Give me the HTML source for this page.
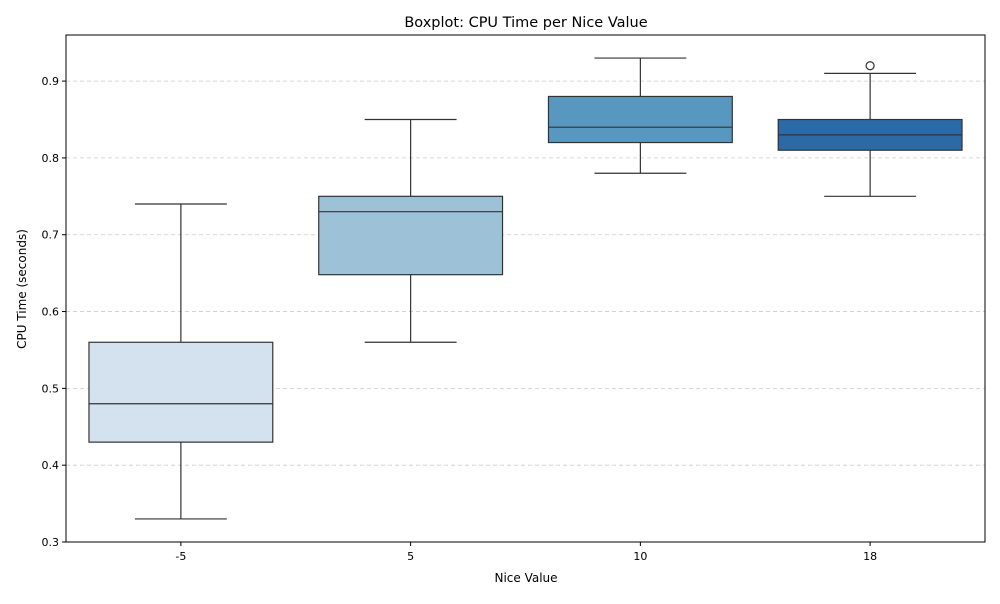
<!DOCTYPE html>
<html><head><meta charset="utf-8"><style>
body{margin:0;background:#fff;font-family:"DejaVu Sans","Liberation Sans",sans-serif}
svg text{font-family:"DejaVu Sans","Liberation Sans",sans-serif;fill:#000}
</style></head><body>
<svg id="chart" width="1000" height="600" xmlns="http://www.w3.org/2000/svg">
<g id="grid"></g><g id="boxes"></g><g id="axes"></g>
<text x="526" y="27" font-size="14.5" text-anchor="middle">Boxplot: CPU Time per Nice Value</text>
<text x="526" y="582" font-size="12" text-anchor="middle">Nice Value</text>
<text x="26" y="289" font-size="12" text-anchor="middle" transform="rotate(-90 26 289)">CPU Time (seconds)</text>
</svg>
<script>
const categories=["-5","5","10","18"];
const whiskerLow=[0.33,0.56,0.78,0.75];
const q1=[0.43,0.648,0.82,0.81];
const medians=[0.48,0.73,0.84,0.83];
const q3=[0.56,0.75,0.88,0.85];
const whiskerHigh=[0.74,0.85,0.93,0.91];
const outliers=[[],[],[],[0.92]];
const yTicks=[0.3,0.4,0.5,0.6,0.7,0.8,0.9];
const colors=["#d4e2f0","#9dc2d8","#5897c0","#2b6aa6"];
const L=66,R=985,T=35,B=542,yMin=0.3,yMax=0.96;
const NS="http://www.w3.org/2000/svg";
function y(v){return B-(v-yMin)/(yMax-yMin)*(B-T);}
const band=(R-L)/categories.length;
function x(i){return L+band*(i+0.5);}
function mk(p,tag,a){const e=document.createElementNS(NS,tag);for(const k in a)e.setAttribute(k,a[k]);p.appendChild(e);return e;}
const grid=document.getElementById('grid'),boxes=document.getElementById('boxes'),axes=document.getElementById('axes');
yTicks.forEach(t=>{
 const g=mk(grid,'line',{x1:L,x2:R,y1:y(t),y2:y(t),stroke:'#ccc','stroke-dasharray':'4,3','stroke-width':0.8});
 
 
 const tk=mk(axes,'line',{x1:L-4,x2:L,y1:y(t),y2:y(t),stroke:'#000'});
 
 
 const tx=mk(axes,'text',{x:L-7,y:y(t)+4,'font-size':11,'text-anchor':'end'});tx.textContent=t.toFixed(1);
 
 
});
const bw=band*0.8;
categories.forEach((c,i)=>{
 const cx=x(i);
 const g=mk(boxes,'g',{});
 
 
 const s={stroke:'#333','stroke-width':1.2};
 mk(g,'line',Object.assign({x1:cx,x2:cx,y1:y(whiskerLow[i]),y2:y(q1[i])},s));
 mk(g,'line',Object.assign({x1:cx,x2:cx,y1:y(q3[i]),y2:y(whiskerHigh[i])},s));
 mk(g,'line',Object.assign({x1:cx-bw/4,x2:cx+bw/4,y1:y(whiskerLow[i]),y2:y(whiskerLow[i])},s));
 mk(g,'line',Object.assign({x1:cx-bw/4,x2:cx+bw/4,y1:y(whiskerHigh[i]),y2:y(whiskerHigh[i])},s));
 mk(g,'rect',Object.assign({x:cx-bw/2,y:y(q3[i]),width:bw,height:y(q1[i])-y(q3[i]),fill:colors[i]},s));
 mk(g,'line',Object.assign({x1:cx-bw/2,x2:cx+bw/2,y1:y(medians[i]),y2:y(medians[i])},s));
 outliers[i].forEach(o=>{const p=mk(g,'circle',{cx:cx,cy:y(o),r:4,fill:'none',stroke:'#333','stroke-width':1.2});
  
  });
 const tk=mk(axes,'line',{x1:cx,x2:cx,y1:B,y2:B+4,stroke:'#000'});
 
 
 const tx=mk(axes,'text',{x:cx,y:B+18,'font-size':11,'text-anchor':'middle'});tx.textContent=c;
 
 
});
const fr=mk(axes,'rect',{x:L,y:T,width:R-L,height:B-T,fill:'none',stroke:'#000','stroke-width':1});


</script>
</body></html>
